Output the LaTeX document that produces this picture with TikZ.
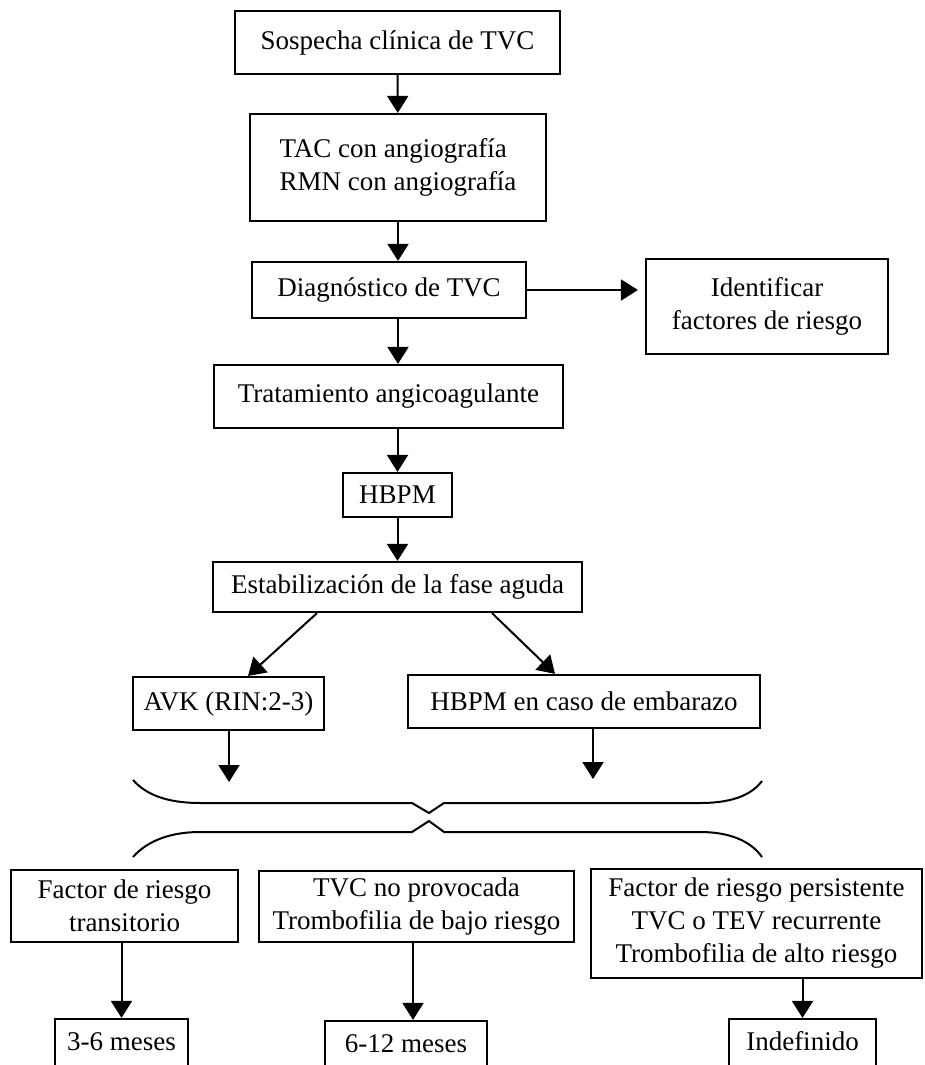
\documentclass[tikz,border=0pt]{standalone}
\usepackage{fontspec}
\setmainfont{Liberation Serif}
\usetikzlibrary{arrows.meta}

\tikzset{
  caja/.style = {draw, line width = 2.2pt, inner sep = 0pt, align = center, font = \fontsize{27}{33}\selectfont},
  corte/.style = {minimum height = 56pt, text height = 19pt, text depth = 12pt},
  flecha/.style = {-{Triangle[length = 17pt, width = 21pt]}, line width = 2pt},
  llave/.style = {line width = 2pt}
}

\begin{document}
\begin{tikzpicture} [x = 1pt, y = -1pt]
\useasboundingbox (0,0) rectangle (924,1065);
\node[caja, minimum width = 325pt, minimum height = 63pt] (sospecha) at (397.5,42.5) {Sospecha clínica de TVC};
\node[caja, align = left, minimum width = 296pt, minimum height = 107pt] (imagen) at (398,167.5) {TAC con angiografía\\RMN con angiografía};
\node[caja, minimum width = 274pt, minimum height = 56pt] (diagnostico) at (389,290) {Diagnóstico de TVC};
\node[caja, minimum width = 242pt, minimum height = 95pt] (identificar) at (767,306.5) {Identificar\\factores de riesgo};
\node[caja, minimum width = 349pt, minimum height = 63pt] (tratamiento) at (388.5,396.5) {Tratamiento angicoagulante};
\node[caja, minimum width = 109pt, minimum height = 44pt] (hbpm) at (397.5,495) {HBPM};
\node[caja, minimum width = 369pt, minimum height = 50pt] (estabilizacion) at (397.5,587) {Estabilización de la fase aguda};
\node[caja, minimum width = 191pt, minimum height = 53pt] (avk) at (228.5,703.5) {AVK (RIN:2-3)};
\node[caja, minimum width = 352pt, minimum height = 53pt] (embarazo) at (584,701.5) {HBPM en caso de embarazo};
\node[caja, minimum width = 227pt, minimum height = 72pt] (transitorio) at (124.5,906) {Factor de riesgo\\transitorio};
\node[caja, minimum width = 315pt, minimum height = 71pt] (noprovocada) at (416.5,906.5) {TVC no provocada\\Trombofilia de bajo riesgo};
\node[caja, minimum width = 331pt, minimum height = 109pt] (persistente) at (756.5,923.5) {Factor de riesgo persistente\\TVC o TEV recurrente\\Trombofilia de alto riesgo};
\node[caja, corte, minimum width = 133pt] (tres) at (121.5,1047) {3-6 meses};
\node[caja, corte, minimum width = 162pt] (seis) at (406,1049) {6-12 meses};
\node[caja, corte, minimum width = 147pt] (indefinido) at (802.5,1047) {Indefinido};
\coordinate (llaveA) at (229,782);
\coordinate (llaveB) at (593,779);
\draw [flecha] (sospecha) -- (imagen);
\draw [flecha] (imagen) -- (imagen |- diagnostico.north);
\draw [flecha] (imagen.south |- diagnostico.south) -- (imagen.south |- tratamiento.north);
\draw [flecha, shorten > = 7pt] (diagnostico.east) -- (diagnostico.east -| identificar.west);
\draw [flecha] (tratamiento.south -| hbpm.north) -- (hbpm.north);
\draw [flecha] (hbpm) -- (hbpm |- estabilizacion.north);
\draw [flecha] ([xshift = -80.5pt]estabilizacion.south) -- ([xshift = 19.5pt]avk.north);
\draw [flecha] ([xshift = 94.5pt]estabilizacion.south) -- ([xshift = -29pt]embarazo.north);
\draw [flecha] (avk.south -| llaveA) -- (llaveA);
\draw [flecha] (embarazo.south -| llaveB) -- (llaveB);
\draw [llave] (133,780) .. controls (148,797) and (172,803) .. (200,803) -- (412,803) -- (429,813) -- (444,803) -- (700,803) .. controls (728,803) and (750,797) .. (762,781);
\draw [llave] (133,857) .. controls (148,840) and (172,832) .. (200,832) -- (412,832) -- (429,821) -- (444,832) -- (700,832) .. controls (728,832) and (750,840) .. (762,857);
\draw [flecha] (tres.north |- transitorio.south) -- (tres.north);
\draw [flecha] ([xshift = -3.5pt]noprovocada.south) -- ([xshift = -3.5pt]noprovocada.south |- seis.north);
\draw [flecha] (indefinido.north |- persistente.south) -- (indefinido.north);
\end{tikzpicture}
\end{document}
